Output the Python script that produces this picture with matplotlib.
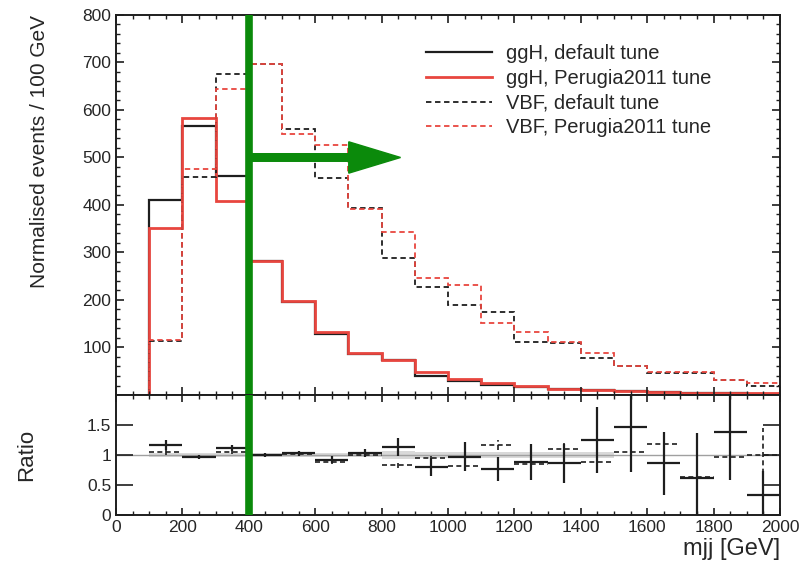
import numpy as np
import matplotlib
matplotlib.use("Agg")
import matplotlib.pyplot as plt
from matplotlib.ticker import MultipleLocator

plt.rcParams['font.family'] = ['Liberation Sans', 'DejaVu Sans']

# bin edges in mjj [GeV]
edges = np.arange(100, 2001, 100)

# normalised events / 100 GeV
ggh_default = [411, 567, 461, 282, 195, 128, 86, 74, 40, 30, 22, 16, 12, 10, 8, 6, 5, 4, 3]
ggh_perugia = [352, 584, 408, 282, 198, 133, 89, 73, 48, 33, 25, 18, 13, 10, 8, 7, 5, 4, 4]
vbf_default = [113, 458, 675, 697, 560, 457, 394, 289, 228, 190, 175, 112, 110, 78, 60, 46, 46, 32, 18]
vbf_perugia = [116, 475, 644, 697, 550, 527, 392, 344, 247, 232, 152, 133, 112, 88, 62, 49, 49, 32, 25]

# ratio panel
ratio_ggh = [1.17, 0.97, 1.12, 1.0, 1.03, 0.92, 1.03, 1.13, 0.80, 0.97, 0.77, 0.89, 0.86, 1.25, 1.47, 0.86, 0.62, 1.39, 0.33]
ratio_ggh_err = [0.08, 0.03, 0.05, 0.03, 0.04, 0.06, 0.07, 0.15, 0.15, 0.24, 0.2, 0.3, 0.32, 0.55, 0.75, 0.53, 0.75, 0.8, 0.4]
ratio_vbf = [1.05, 0.97, 1.05, 1.0, 1.02, 0.88, 1.0, 0.84, 0.95, 0.82, 1.17, 0.85, 1.1, 0.89, 1.05, 1.18, 0.64, 0.97, 1.0]
ratio_vbf_err = [0.05, 0.02, 0.03, 0.02, 0.03, 0.03, 0.04, 0.05, 0.05, 0.06, 0.08, 0.08, 0.1, 0.12, 0.15, 0.15, 0.2, 0.2, 0.45]
band_err = [0.04, 0.03, 0.04, 0.03, 0.03, 0.04, 0.04, 0.06, 0.05, 0.05, 0.05, 0.05, 0.05, 0.05, 0, 0, 0, 0, 0]

cut = 400
arrow_end = 857
arrow_y = 500

red = '#e8463f'
blk = '#1e1e1e'
green = '#0b8a0b'
txt = '#262626'
dash = (0, (3, 2))

fig = plt.figure(figsize=(8.04, 5.63), dpi=100)
ax1 = fig.add_axes([0.1443, 0.2984, 0.8259, 0.6750])
ax2 = fig.add_axes([0.1443, 0.0853, 0.8259, 0.2131])

# top panel
ax1.stairs(ggh_default, edges, baseline=0, color=blk, lw=1.6, label='ggH, default tune')
ax1.stairs(ggh_perugia, edges, baseline=0, color=red, lw=2.0, label='ggH, Perugia2011 tune')
ax1.stairs(vbf_default, edges, baseline=0, color=blk, lw=1.3, ls=dash, label='VBF, default tune')
ax1.stairs(vbf_perugia, edges, baseline=0, color=red, lw=1.3, ls=dash, label='VBF, Perugia2011 tune')

ax1.set_xlim(0, 2000)
ax1.set_ylim(0, 800)
ax1.set_yticks(range(100, 801, 100))
ax1.yaxis.set_minor_locator(MultipleLocator(20))
ax1.xaxis.set_major_locator(MultipleLocator(200))
ax1.xaxis.set_minor_locator(MultipleLocator(50))
ax1.tick_params(axis='x', labelbottom=False)
ax1.set_ylabel('Normalised events / 100 GeV', fontsize=15, color=txt, labelpad=24, loc='top')

leg = ax1.legend(loc='upper left', bbox_to_anchor=(0.445, 0.96), frameon=False,
                 fontsize=14.5, handlelength=3.3, labelspacing=0.28, handletextpad=0.7,
                 borderpad=0.2)
for t in leg.get_texts():
    t.set_color(txt)

ax1.axvline(cut, color=green, lw=5.5, zorder=5)
ax1.arrow(cut, arrow_y, arrow_end - cut, 0, width=16, head_width=66, head_length=156,
          length_includes_head=True, color=green, zorder=6)

# ratio panel
centres = (edges[:-1] + edges[1:]) / 2
lo = [1 - b for b in band_err]
hi = [1 + b for b in band_err]
ax2.stairs(hi, edges, baseline=lo, fill=True, color='#d9d9d9', lw=0, zorder=1)
ax2.axhline(1, color='#a0a0a0', lw=1.0, zorder=1)

e1 = ax2.errorbar(centres, ratio_ggh, xerr=50, yerr=ratio_ggh_err, fmt='none',
                  ecolor=blk, elinewidth=1.6, capsize=0, zorder=3)
e2 = ax2.errorbar(centres, ratio_vbf, xerr=50, yerr=ratio_vbf_err, fmt='none',
                  ecolor=blk, elinewidth=1.2, capsize=0, zorder=2)
for lc in e2[2]:
    lc.set_linestyle(dash)

ax2.axvline(cut, color=green, lw=5.5, zorder=5)

ax2.set_xlim(0, 2000)
ax2.set_ylim(0, 2)
ax2.set_yticks([0, 0.5, 1, 1.5])
ax2.set_yticklabels(['0', '0.5', '1', '1.5'])
ax2.xaxis.set_major_locator(MultipleLocator(200))
ax2.xaxis.set_minor_locator(MultipleLocator(50))
ax2.set_ylabel('Ratio', fontsize=16, color=txt, labelpad=36)
ax2.set_xlabel('mjj [GeV]', fontsize=17, color=txt, loc='right', labelpad=2)

for ax in (ax1, ax2):
    for s in ax.spines.values():
        s.set_linewidth(1.4)
        s.set_color(blk)
    ax.tick_params(which='both', direction='in', top=True, right=True,
                   labelsize=12.5, labelcolor=txt, color=blk)
    ax.tick_params(which='major', length=6, width=1.2)
    ax.tick_params(which='minor', length=3, width=1.0)
ax2.tick_params(axis='y', which='major', length=12)
ax2.tick_params(axis='x', which='major', length=5)

fig.savefig('out.png', dpi=100)
